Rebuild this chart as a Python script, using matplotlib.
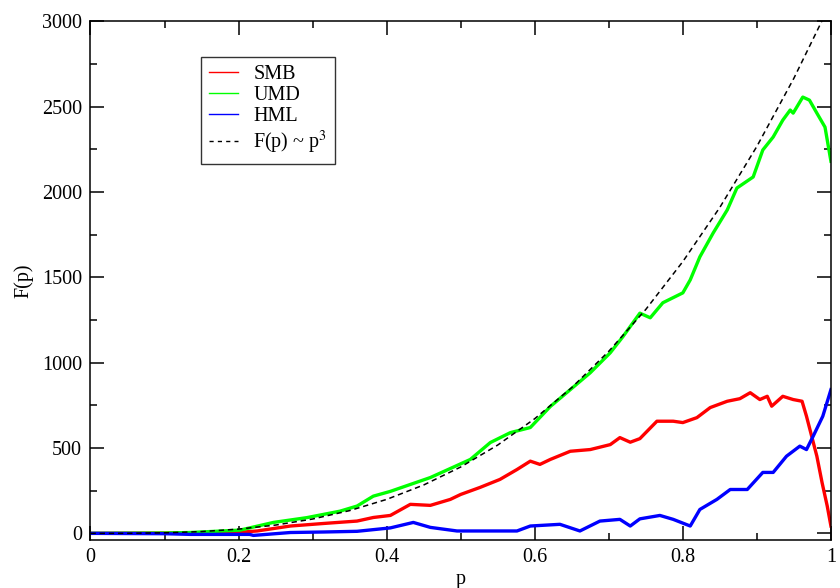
import matplotlib
matplotlib.use("Agg")
import matplotlib.pyplot as plt
from matplotlib.lines import Line2D
from matplotlib.ticker import MultipleLocator

# SMB curve
smb_p = [0.0, 0.1, 0.2, 0.225, 0.27, 0.315, 0.36, 0.382, 0.405, 0.432, 0.459, 0.486,
         0.5, 0.526, 0.553, 0.576, 0.594, 0.607, 0.621, 0.648, 0.675, 0.702, 0.715,
         0.729, 0.742, 0.765, 0.787, 0.8, 0.819, 0.837, 0.86, 0.877, 0.891, 0.904,
         0.914, 0.92, 0.935, 0.949, 0.961, 0.967, 0.974, 0.981, 0.988, 0.995, 1.0]
smb_f = [0, 2, 6, 14, 43, 58, 72, 93, 105, 170, 164, 199,
         228, 269, 316, 374, 423, 404, 433, 481, 491, 520, 561,
         534, 555, 657, 657, 649, 678, 737, 774, 789, 824, 784,
         803, 745, 803, 784, 774, 686, 569, 452, 298, 160, 43]

# UMD curve
umd_p = [0.0, 0.1, 0.135, 0.202, 0.247, 0.292, 0.337, 0.36, 0.382, 0.405, 0.459,
         0.513, 0.54, 0.567, 0.594, 0.621, 0.648, 0.675, 0.702, 0.719, 0.742,
         0.756, 0.773, 0.8, 0.81, 0.823, 0.841, 0.86, 0.873, 0.895, 0.908, 0.922,
         0.935, 0.945, 0.949, 0.962, 0.971, 0.981, 0.992, 1.0]
umd_f = [0, 2, 5, 19, 64, 92, 130, 160, 218, 246, 327,
         433, 532, 590, 620, 743, 842, 941, 1058, 1152, 1290,
         1263, 1351, 1409, 1485, 1620, 1760, 1895, 2023, 2088, 2246, 2322,
         2421, 2480, 2462, 2556, 2538, 2462, 2380, 2180]

# HML curve
hml_p = [0.0, 0.1, 0.135, 0.215, 0.22, 0.27, 0.315, 0.36, 0.405, 0.436, 0.459,
         0.495, 0.54, 0.576, 0.594, 0.634, 0.661, 0.688, 0.715, 0.729, 0.742,
         0.769, 0.787, 0.81, 0.823, 0.846, 0.864, 0.887, 0.908, 0.922, 0.94,
         0.958, 0.967, 0.976, 0.989, 1.0]
hml_f = [0, -2, -6, -6, -12, 5, 8, 12, 32, 64, 35,
         14, 14, 14, 43, 53, 14, 72, 82, 43, 85,
         105, 82, 43, 140, 199, 257, 257, 357, 357, 452,
         511, 491, 569, 686, 842]

# fit curve F(p) ~ p^3, read at p = 0, 0.05, ..., 1
fit_p = [0.0, 0.05, 0.1, 0.15, 0.2, 0.25, 0.3, 0.35, 0.4, 0.45, 0.5,
         0.55, 0.6, 0.65, 0.7, 0.75, 0.8, 0.85, 0.9, 0.95, 1.0]
fit_f = [0, 0.4, 3.1, 10.5, 24.9, 48.6, 84.0, 133.3, 199.0, 283.4, 388.8,
         517.4, 671.8, 854.1, 1066.7, 1312.0, 1592.3, 1909.9, 2267.2, 2666.5, 3110]

plt.rcParams['font.family'] = ['Liberation Serif', 'DejaVu Serif']
plt.rcParams['mathtext.fontset'] = 'stix'
plt.rcParams['font.size'] = 14.5

fig = plt.figure(figsize=(8.4, 5.88), dpi=100)
ax = fig.add_axes([0.1077, 0.0816, 0.8815, 0.8822])

ax.plot(smb_p, smb_f, color='#ff0000', lw=2.4)
ax.plot(umd_p, umd_f, color='#00ff00', lw=2.4)
ax.plot(hml_p, hml_f, color='#0000ff', lw=2.4)
ax.plot(fit_p, fit_f, color='black', lw=1.1, dashes=(3.5, 2.5))

ax.set_xlim(0, 1)
ax.set_ylim(-39, 3000)
ax.xaxis.set_major_locator(MultipleLocator(0.2))
ax.xaxis.set_minor_locator(MultipleLocator(0.1))
ax.yaxis.set_major_locator(MultipleLocator(500))
ax.yaxis.set_minor_locator(MultipleLocator(250))
ax.xaxis.set_major_formatter(plt.FuncFormatter(lambda v, pos: f'{v:g}'))
ax.tick_params(which='both', direction='in', top=True, right=True, width=1.1)
ax.tick_params(which='major', length=10, pad=6)
ax.tick_params(which='minor', length=5)
for s in ax.spines.values():
    s.set_linewidth(1.1)

ax.set_xlabel('p', labelpad=2)
ax.set_ylabel('F(p)', labelpad=6)

handles = [Line2D([], [], color='#ff0000', lw=1.0),
           Line2D([], [], color='#00ff00', lw=1.0),
           Line2D([], [], color='#0000ff', lw=1.0),
           Line2D([], [], color='black', lw=1.0, dashes=(3, 3))]
labels = ['SMB', 'UMD', 'HML', r'F(p) ~ p$^{3}$']
leg = ax.legend(handles, labels, loc='upper left', bbox_to_anchor=(0.149, 0.931),
                borderaxespad=0, frameon=True, fancybox=False, edgecolor='black',
                handlelength=1.45, handletextpad=0.75, labelspacing=0.1, borderpad=0.4)
leg.get_frame().set_linewidth(1.0)

fig.savefig('out.png', dpi=100)
